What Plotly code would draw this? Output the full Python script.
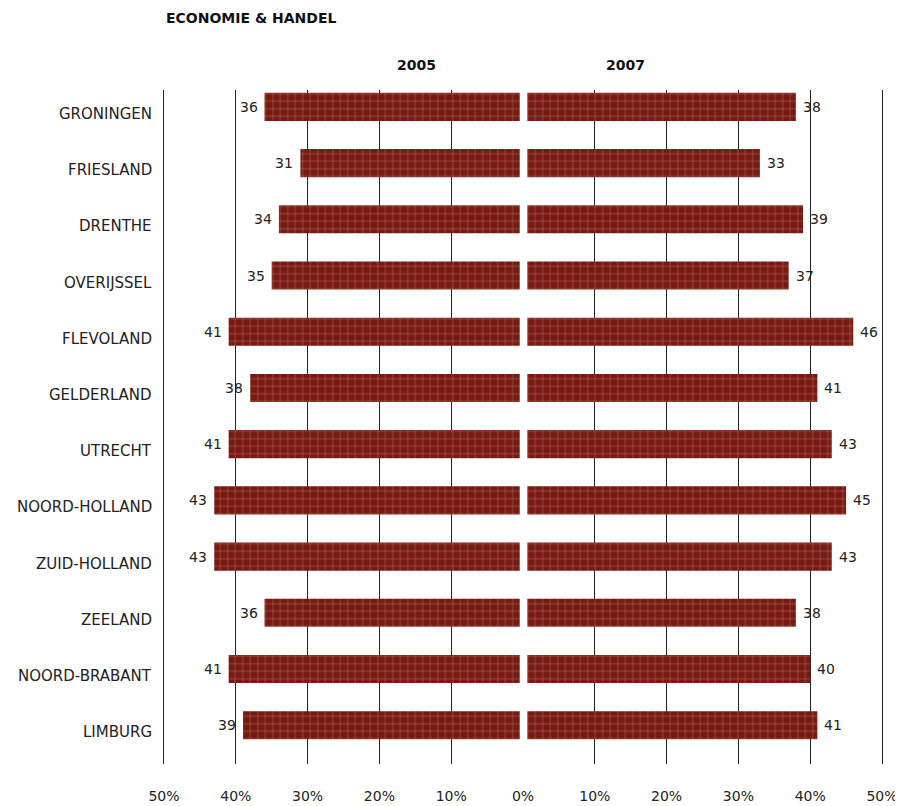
import plotly.graph_objects as go

provinces = ["GRONINGEN", "FRIESLAND", "DRENTHE", "OVERIJSSEL", "FLEVOLAND", "GELDERLAND",
             "UTRECHT", "NOORD-HOLLAND", "ZUID-HOLLAND", "ZEELAND", "NOORD-BRABANT", "LIMBURG"]
values_2005 = [36, 31, 34, 35, 41, 38, 41, 43, 43, 36, 41, 39]
values_2007 = [38, 33, 39, 37, 46, 41, 43, 45, 43, 38, 40, 41]
grid_vals = [-50, -40, -30, -20, -10, 10, 20, 30, 40, 50]
grid_text = ["50%", "40%", "30%", "20%", "10%", "10%", "20%", "30%", "40%", "50%"]
zero_vals = [0]
zero_text = ["0%"]

FONT = "DejaVu Sans"
BAR_BG = "#761a12"
BAR_FG = "#b86a5e"
GAP_L = 0.45
GAP_R = 0.6

pattern = dict(shape="+", bgcolor=BAR_BG, fgcolor=BAR_FG, size=7.5, solidity=0.14, fillmode="replace")

fig = go.Figure()
fig.add_trace(go.Bar(
    y=provinces, x=[-(v - GAP_L) for v in values_2005], base=-GAP_L, orientation="h",
    marker=dict(color=BAR_BG, pattern=pattern, line=dict(width=0)),
    width=0.5, hoverinfo="skip", showlegend=False))
fig.add_trace(go.Bar(
    y=provinces, x=[v - GAP_R for v in values_2007], base=GAP_R, orientation="h",
    marker=dict(color=BAR_BG, pattern=pattern, line=dict(width=0)),
    width=0.5, hoverinfo="skip", showlegend=False))
# invisible helper trace on the overlay axis carrying the 0% label
fig.add_trace(go.Scatter(x=[0], y=[provinces[0]], xaxis="x2", mode="markers",
                         marker=dict(opacity=0), hoverinfo="skip", showlegend=False))

# category labels (sit slightly below the bar centre, as in the reference)
for p in provinces:
    fig.add_annotation(x=0, xref="paper", y=p, text=p, showarrow=False, xanchor="right",
                       xshift=-10, yshift=-7, font=dict(family=FONT, size=15, color="#222"))

for p, v in zip(provinces, values_2005):
    fig.add_annotation(x=-v, y=p, text=str(v), showarrow=False, xanchor="right",
                       xshift=-5, font=dict(family=FONT, size=14, color="#222"))
for p, v in zip(provinces, values_2007):
    fig.add_annotation(x=v, y=p, text=str(v), showarrow=False, xanchor="left",
                       xshift=5, font=dict(family=FONT, size=14, color="#222"))

fig.add_annotation(x=-14.8, y=1, yref="paper", yanchor="bottom", yshift=15, text="<b>2005</b>",
                   showarrow=False, font=dict(family=FONT, size=14, color="#111"))
fig.add_annotation(x=14.3, y=1, yref="paper", yanchor="bottom", yshift=15, text="<b>2007</b>",
                   showarrow=False, font=dict(family=FONT, size=14, color="#111"))
fig.add_annotation(x=0, xref="paper", y=1, yref="paper", yanchor="bottom", xanchor="left",
                   yshift=62, text="<b>ECONOMIE &amp; HANDEL</b>",
                   showarrow=False, font=dict(family=FONT, size=14, color="#111"))

axis_font = dict(family=FONT, size=14, color="#222")
# the page body adds an 8px offset, so the figure is 8px smaller than the window
fig.update_layout(
    width=895, height=798,
    margin=dict(l=156, r=21, t=82, b=42),
    paper_bgcolor="white", plot_bgcolor="white",
    barmode="overlay",
    font=dict(family=FONT, size=14, color="#222"),
    xaxis=dict(range=[-50, 50], tickvals=grid_vals, ticktext=grid_text,
               showgrid=True, gridcolor="#222", gridwidth=1, zeroline=False,
               ticks="", ticklabelstandoff=22, fixedrange=True, automargin=False,
               tickfont=axis_font),
    xaxis2=dict(range=[-50, 50], overlaying="x", side="bottom", tickvals=zero_vals,
                ticktext=zero_text, showgrid=False, zeroline=False, ticks="",
                ticklabelstandoff=22, automargin=False, tickfont=axis_font),
    yaxis=dict(range=[11.69, -0.30], showgrid=False, zeroline=False,
               showline=True, mirror=True, linecolor="#222", linewidth=1,
               ticks="", showticklabels=False, automargin=False),
)

fig.write_html("out.html")
